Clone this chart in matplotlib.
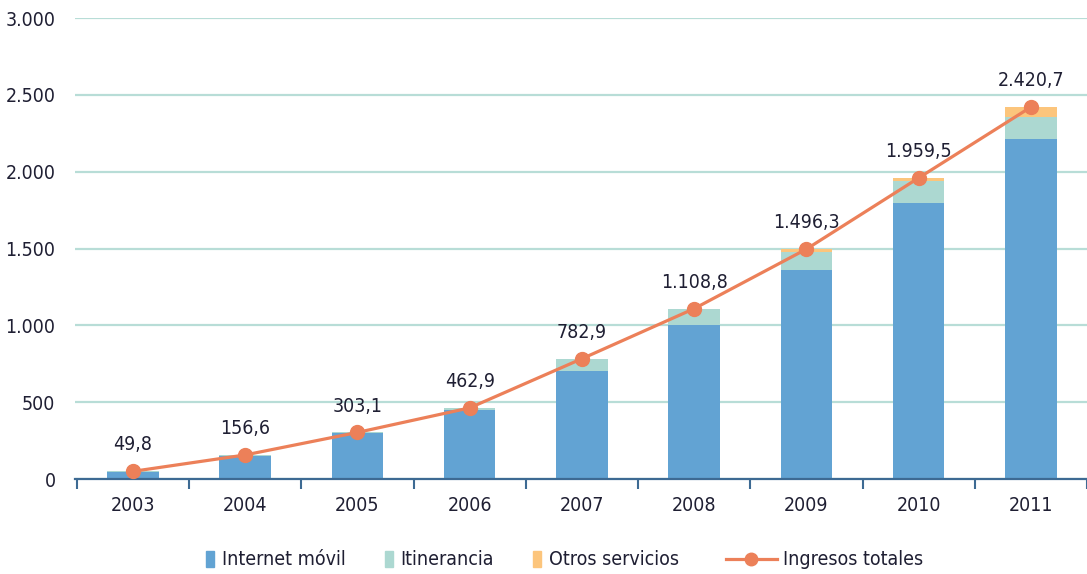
import matplotlib
matplotlib.use('Agg')
import matplotlib.pyplot as plt
from matplotlib.patches import Patch
from matplotlib.lines import Line2D
import numpy as np

plt.rcParams['font.family'] = ['DejaVu Sans']
plt.rcParams['font.stretch'] = 'condensed'

years = ['2003', '2004', '2005', '2006', '2007', '2008', '2009', '2010', '2011']
internet_movil = [48, 152, 298, 452, 700, 1005, 1360, 1795, 2210]
itinerancia = [1.8, 4.6, 5.1, 10.9, 82.9, 99.8, 120.3, 144.5, 145.0]
otros = [0, 0, 0, 0, 0, 4.0, 16.0, 20.0, 65.7]
totales = [49.8, 156.6, 303.1, 462.9, 782.9, 1108.8, 1496.3, 1959.5, 2420.7]
total_labels = ['49,8', '156,6', '303,1', '462,9', '782,9', '1.108,8', '1.496,3', '1.959,5', '2.420,7']
y_ticks = [0, 500, 1000, 1500, 2000, 2500, 3000]
y_tick_labels = ['0', '500', '1.000', '1.500', '2.000', '2.500', '3.000']

c_internet = '#62a3d3'
c_itin = '#acd8d1'
c_otros = '#fcc57c'
c_line = '#ec8059'
c_grid = '#b8ddd7'
c_axis = '#3d6a93'
c_text = '#1f1f33'

fig = plt.figure(figsize=(10.87, 5.74), dpi=100)
ax = fig.add_axes([0.069, 0.1655, 0.931, 0.803])

x = np.arange(len(years))
w = 0.46
ax.bar(x, internet_movil, w, color=c_internet, zorder=2)
ax.bar(x, itinerancia, w, bottom=internet_movil, color=c_itin, zorder=2)
base = np.array(internet_movil) + np.array(itinerancia)
ax.bar(x, otros, w, bottom=base, color=c_otros, zorder=2)

ax.plot(x, totales, color=c_line, lw=2.3, marker='o', ms=10, zorder=3)
for xi, v, lab in zip(x, totales, total_labels):
    ax.annotate(lab, (xi, v), xytext=(0, 19), textcoords='offset points',
                ha='center', va='center', fontsize=14, color=c_text)

ax.set_ylim(0, 3000)
ax.set_xlim(-0.516, 8.48)
ax.set_yticks(y_ticks)
ax.set_yticklabels(y_tick_labels)
ax.yaxis.grid(True, color=c_grid, lw=1.6)
ax.set_axisbelow(True)

ax.set_xticks(x)
ax.set_xticklabels(years)
ax.set_xticks(np.arange(-0.5, 8.6, 1), minor=True)
ax.tick_params(axis='x', which='major', length=0, pad=12, labelsize=14, labelcolor=c_text)
ax.tick_params(axis='x', which='minor', length=7, width=1.5, color=c_axis, direction='out')
ax.tick_params(axis='y', length=0, pad=14, labelsize=14, labelcolor=c_text)

for s in ['top', 'right', 'left']:
    ax.spines[s].set_visible(False)
ax.spines['bottom'].set_color(c_axis)
ax.spines['bottom'].set_linewidth(1.6)

# legend: narrow swatches for the stacked series, separate entry for the line
bar_handles = [
    Patch(color=c_internet, label='Internet móvil'),
    Patch(color=c_itin, label='Itinerancia'),
    Patch(color=c_otros, label='Otros servicios'),
]
fig.legend(handles=bar_handles, loc='center left', bbox_to_anchor=(0.1805, 0.0244),
           ncol=3, frameon=False, fontsize=14, handlelength=0.42, handleheight=0.9,
           columnspacing=2.0, handletextpad=0.4, borderpad=0, labelcolor=c_text)
line_handle = [Line2D([0], [0], color=c_line, lw=2.3, marker='o', ms=9, label='Ingresos totales')]
fig.legend(handles=line_handle, loc='center left', bbox_to_anchor=(0.659, 0.0244),
           frameon=False, fontsize=14, handlelength=2.6, handletextpad=0.35,
           borderpad=0, labelcolor=c_text)

fig.savefig('out.png', dpi=100)
